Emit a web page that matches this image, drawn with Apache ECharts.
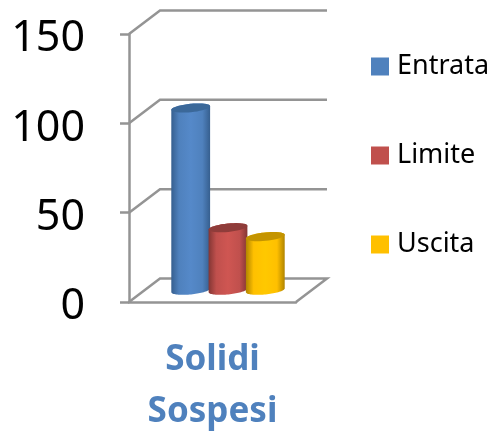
<!DOCTYPE html>
<html>
<head>
<meta charset="utf-8">
<style>
  html, body { margin: 0; padding: 0; background: #fff; }
  #chart { width: 493px; height: 431px; }
</style>
<script src="https://cdn.jsdelivr.net/npm/echarts@6/dist/echarts.min.js"></script>
</head>
<body>
<div id="chart"></div>
<script>
const categories = ["Solidi\nSospesi"];
const yTicks = [0, 50, 100, 150];
const entrata = [102];
const limite = [35];
const uscita = [30];

const DEPTH_X = 31; // spostamento della parete di fondo
const DEPTH_Y = -23.5;
const BAR_WIDTH = 39;
const BAR_STEP = 37.3;
const ELLIPSE_B = 4.2;
const TILT = 0.1;
const LINE_COLOR = "#949494";
const LINE_WIDTH = 2.5;

const palette = [
  { name: "Entrata", legend: "#4f81bd", edge: "#365f8f", mid: "#5589c9", top: "#3b6899" },
  { name: "Limite", legend: "#c0504d", edge: "#843634", mid: "#cf5652", top: "#8f3c3a" },
  { name: "Uscita", legend: "#ffc000", edge: "#b08400", mid: "#ffc800", top: "#c49400" },
];

// punto su un'ellisse inclinata
function ellipsePoint(cx, cy, angle) {
  const a = BAR_WIDTH / 2;
  const ex = a * Math.cos(angle);
  const ey = ELLIPSE_B * Math.sin(angle);
  return [cx + ex * Math.cos(TILT) + ey * Math.sin(TILT), cy - ex * Math.sin(TILT) + ey * Math.cos(TILT)];
}

function ellipseArc(cx, cy, from, to) {
  const points = [];
  for (let i = 0; i <= 40; i++) {
    points.push(ellipsePoint(cx, cy, from + ((to - from) * i) / 40));
  }
  return points;
}

function cylinderItem(index, params, api) {
  const style = palette[index];
  const base = api.coord([api.value(0), 0]);
  const head = api.coord([api.value(0), api.value(1)]);
  const cx = base[0] + (DEPTH_X / 2) + (index - 1) * BAR_STEP;
  const baseY = base[1] + DEPTH_Y / 2;
  const topY = head[1] + DEPTH_Y / 2;

  const body = ellipseArc(cx, baseY, 0, Math.PI).concat(ellipseArc(cx, topY, Math.PI, 2 * Math.PI));
  return {
    type: "group",
    children: [
      {
        type: "polygon",
        shape: { points: body },
        style: {
          fill: new echarts.graphic.LinearGradient(0, 0, 1, 0, [
            { offset: 0, color: style.edge },
            { offset: 0.2, color: style.legend },
            { offset: 0.5, color: style.mid },
            { offset: 0.8, color: style.legend },
            { offset: 1, color: style.edge },
          ]),
        },
      },
      {
        type: "polygon",
        shape: { points: ellipseArc(cx, topY, 0, 2 * Math.PI) },
        style: { fill: style.top },
      },
    ],
  };
}

// pareti e pavimento disegnati dalle stesse scale degli assi
function wallItem(params, api) {
  const value = api.value(0);
  const system = params.coordSys;
  const left = system.x;
  const right = system.x + system.width;
  const y = api.coord([0, value])[1];
  const points = [
    [left, y],
    [left + DEPTH_X, y + DEPTH_Y],
    [right + DEPTH_X, y + DEPTH_Y],
  ];
  if (value === 0) {
    points.push([right, y]);
  }
  return {
    type: "polyline",
    shape: { points: points },
    style: { stroke: LINE_COLOR, lineWidth: LINE_WIDTH, fill: "none" },
  };
}

const chart = echarts.init(document.getElementById("chart"));

const series = [
  {
    type: "custom",
    name: "pareti",
    silent: true,
    clip: false,
    data: yTicks.map((v) => [v]),
    encode: { x: -1, y: 0 },
    renderItem: wallItem,
    z: 1,
  },
];
[entrata, limite, uscita].forEach((values, index) => {
  series.push({
    type: "custom",
    name: palette[index].name,
    clip: false,
    itemStyle: { color: palette[index].legend },
    data: values.map((v, i) => [i, v]),
    encode: { x: 0, y: 1 },
    renderItem: (params, api) => cylinderItem(index, params, api),
    z: 2 + index,
  });
});

chart.setOption({
  animation: false,
  backgroundColor: "#fff",
  grid: { left: 129, top: 34, width: 167, height: 268, outerBoundsMode: "none" },
  legend: {
    orient: "vertical",
    left: 371,
    top: 53,
    padding: 0,
    icon: "rect",
    itemWidth: 18,
    itemHeight: 18,
    itemGap: 62,
    data: palette.map((p) => p.name),
    textStyle: { fontFamily: "Noto Sans", fontSize: 27, color: "#000", padding: [0, 0, 0, 3] },
  },
  xAxis: {
    type: "category",
    data: categories,
    axisLine: { lineStyle: { color: LINE_COLOR, width: LINE_WIDTH } },
    axisTick: { length: 13, lineStyle: { color: LINE_COLOR, width: LINE_WIDTH } },
    axisLabel: {
      margin: 32,
      color: "#4f81bd",
      fontFamily: "Noto Sans",
      fontWeight: "bold",
      fontSize: 35,
      lineHeight: 52,
    },
  },
  yAxis: {
    type: "value",
    min: 0,
    max: 150,
    interval: 50,
    axisLine: { show: true, lineStyle: { color: LINE_COLOR, width: LINE_WIDTH } },
    axisTick: { show: true, length: 9, lineStyle: { color: LINE_COLOR, width: LINE_WIDTH } },
    splitLine: { show: false },
    axisLabel: {
      margin: 44,
      verticalAlign: "top",
      lineHeight: 10,
      color: "#000",
      fontFamily: "Noto Sans",
      fontSize: 43,
    },
  },
  series: series,
});
</script>
</body>
</html>
